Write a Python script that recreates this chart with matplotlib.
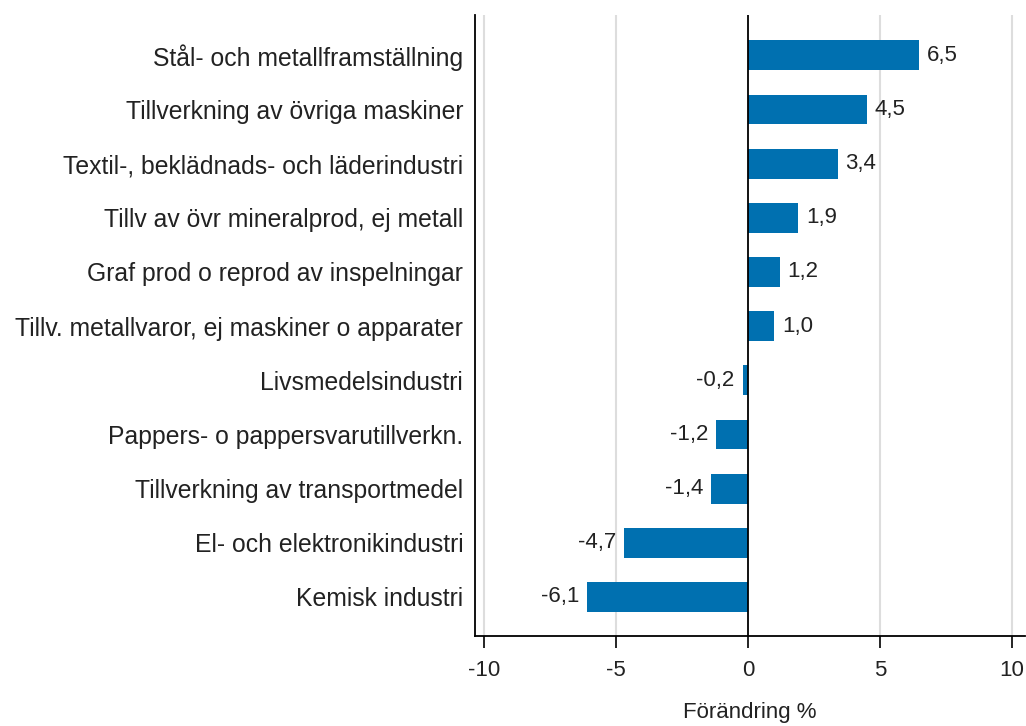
import matplotlib.pyplot as plt

plt.rcParams['font.family'] = ['Liberation Sans', 'DejaVu Sans']

categories = [
    "Stål- och metallframställning",
    "Tillverkning av övriga maskiner",
    "Textil-, beklädnads- och läderindustri",
    "Tillv av övr mineralprod, ej metall",
    "Graf prod o reprod av inspelningar",
    "Tillv. metallvaror, ej maskiner o apparater",
    "Livsmedelsindustri",
    "Pappers- o pappersvarutillverkn.",
    "Tillverkning av transportmedel",
    "El- och elektronikindustri",
    "Kemisk industri",
]
values = [6.5, 4.5, 3.4, 1.9, 1.2, 1.0, -0.2, -1.2, -1.4, -4.7, -6.1]
xticks = [-10, -5, 0, 5, 10]

fig = plt.figure(figsize=(10.26, 7.26), dpi=100)
ax = fig.add_axes([0.463, 0.124, 0.536, 0.855])

pos = list(range(len(categories)))
ax.barh(pos, values, height=0.55, color='#0070b0', zorder=3)

for p, v in zip(pos, values):
    txt = f"{v:.1f}".replace('.', ',')
    if v >= 0:
        ax.text(v + 0.3, p, txt, ha='left', va='center', fontsize=16, color='#222222')
    else:
        ax.text(v - 0.3, p, txt, ha='right', va='center', fontsize=16, color='#222222')

ax.set_xlim(-10.34, 10.5)
ax.set_ylim(len(categories) - 1 + 0.72, -0.74)
ax.set_yticks(pos)
ax.set_yticklabels(categories, fontsize=17.8, color='#222222')
ax.tick_params(axis='y', length=0, pad=8.5)

ax.set_xticks(xticks)
ax.set_xticklabels([str(t) for t in xticks], fontsize=16, color='#222222')
ax.tick_params(axis='x', length=8.5, width=1.2, direction='out', pad=9)

for t in xticks:
    if t != 0:
        ax.axvline(t, color='#dddddd', lw=1.5, zorder=1)
ax.axvline(0, color='black', lw=1.3, zorder=4)

for s in ['top', 'right']:
    ax.spines[s].set_visible(False)
ax.spines['left'].set_linewidth(1.3)
ax.spines['bottom'].set_linewidth(1.3)

ax.set_xlabel("Förändring %", fontsize=16, color='#222222', labelpad=15)

fig.savefig("out.png", dpi=100)
